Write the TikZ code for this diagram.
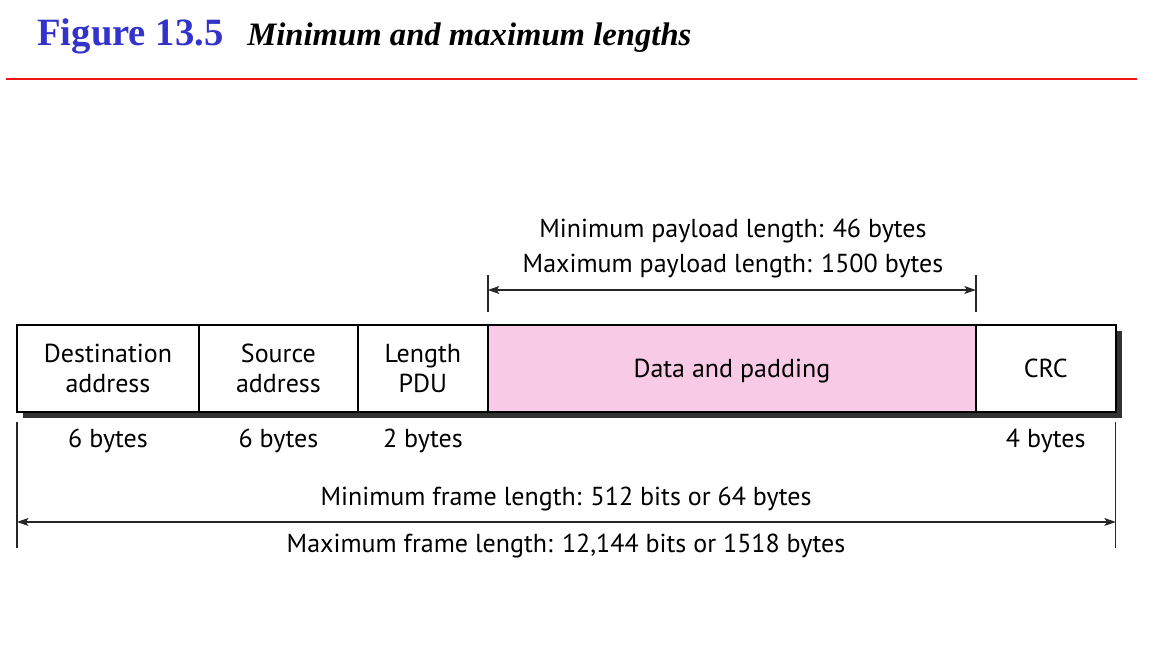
\documentclass[tikz,border=0pt]{standalone}
\usepackage{fontspec}
\setmainfont{Liberation Serif}
\newfontfamily\labelfont{PT Sans}
\usetikzlibrary{arrows.meta,positioning,calc,backgrounds}
\definecolor{TitleBlue}{RGB}{51,51,204}
\definecolor{RuleRed}{RGB}{240,20,20}
\definecolor{PadPink}{RGB}{249,202,229}
\definecolor{ShadowGray}{RGB}{50,50,50}
\tikzset{
  field/.style={draw=black,line width=1pt,fill=white,minimum height=1.74cm,
    inner sep=0pt,outer sep=0pt,align=center,
    font=\labelfont\fontsize{14.8}{17}\selectfont},
  note/.style={inner sep=0pt,anchor=base,font=\labelfont\fontsize{14.8}{17}\selectfont},
  tickline/.style={line width=0.8pt,black!85},
  span/.style={{Stealth[length=6.5pt,width=4.5pt,inset=1.5pt]}-{Stealth[length=6.5pt,width=4.5pt,inset=1.5pt]},
    line width=0.6pt,black!85}
}

\begin{document}
\begin{tikzpicture}[x=0.02cm,y=-0.02cm,node distance=0pt]
  \useasboundingbox (0,0) rectangle (1161,651);
  % title
  \node[anchor=base west,inner sep=0pt,text=TitleBlue,
    font=\bfseries\fontsize{22}{26}\selectfont] (fignum) at (37,46) {Figure 13.5};
  \node[anchor=base west,inner sep=0pt,
    font=\bfseries\itshape\fontsize{18.6}{23}\selectfont] (figtitle) at (247,46) {Minimum and maximum lengths};
  \coordinate (ruleL) at (6,79);
  \coordinate (ruleR) at (1137,79);
  \draw[RuleRed,line width=1.3pt] (ruleL) -- (ruleR);
  % frame fields
  \node[field,minimum width=3.64cm,anchor=north west] (dst) at (17,325) {Destination\\address};
  \node[field,minimum width=3.18cm,right=of dst] (src) {Source\\address};
  \node[field,minimum width=2.6cm,right=of src] (len) {Length\\PDU};
  \node[field,minimum width=9.76cm,right=of len,fill=PadPink,text depth=0pt] (data) {Data and padding};
  \node[field,minimum width=2.8cm,right=of data] (crc) {CRC};
  \begin{scope}[on background layer]
    \fill[ShadowGray] ([shift={(6,6)}]dst.north west) rectangle ([shift={(6,6)}]crc.south east);
  \end{scope}
  % field sizes
  \node[note] (dstsize) at (dst.south |- 0,448) {6 bytes};
  \node[note] (srcsize) at (src.south |- 0,448) {6 bytes};
  \node[note] (lensize) at (len.south |- 0,448) {2 bytes};
  \node[note] (crcsize) at (crc.south |- 0,448) {4 bytes};
  % payload span
  \coordinate (payL) at ($(data.north west)+(0,-35)$);
  \coordinate (payR) at ($(data.north east)+(0,-35)$);
  \draw[tickline] ($(data.north west)+(0,-50)$) -- ($(data.north west)+(0,-13)$);
  \draw[tickline] ($(data.north east)+(0,-50)$) -- ($(data.north east)+(0,-13)$);
  \draw[span] (payL) -- (payR);
  \node[note] (paymin) at (733,238) {Minimum payload length: 46 bytes};
  \node[note] (paymax) at (733,273) {Maximum payload length: 1500 bytes};
  % frame span
  \coordinate (frameL) at ($(dst.south west)+(0,110)$);
  \coordinate (frameR) at ($(crc.south east)+(0,110)$);
  \draw[tickline] ($(dst.south west)+(0,10)$) -- ($(dst.south west)+(0,136)$);
  \draw[tickline] ($(crc.south east)+(0,10)$) -- ($(crc.south east)+(0,136)$);
  \draw[span] (frameL) -- (frameR);
  \node[note] (framemin) at (566,506) {Minimum frame length: 512 bits or 64 bytes};
  \node[note] (framemax) at (566,553) {Maximum frame length: 12,144 bits or 1518 bytes};
\end{tikzpicture}
\end{document}
